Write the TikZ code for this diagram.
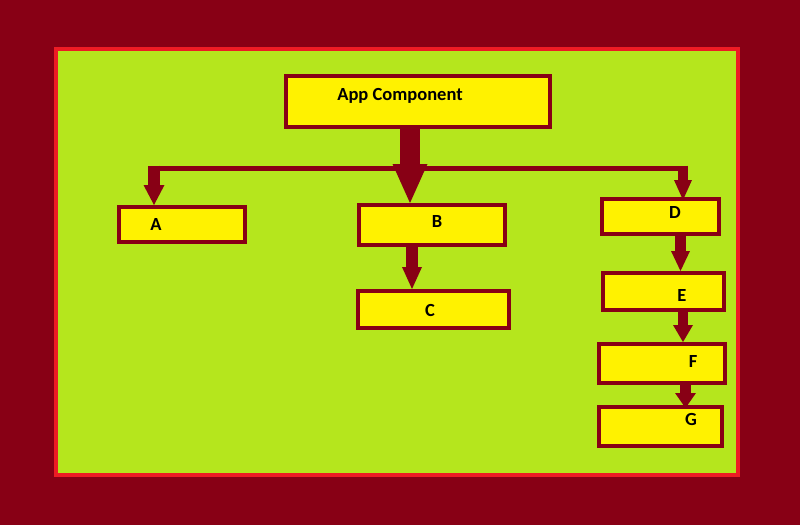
\documentclass[tikz,border=0pt]{standalone}
\usepackage{fontspec}
\setmainfont{Carlito}
\usetikzlibrary{arrows.meta, calc}
\definecolor{darkmaroon}{HTML}{880015}
\definecolor{brightred}{HTML}{ED1C24}
\definecolor{limegreen}{HTML}{B5E61D}
\definecolor{lemonyellow}{HTML}{FFF200}
\tikzset{
    my-frame/.style={
        draw=brightred, fill=limegreen, line width=4pt, inner sep=0pt, shape=rectangle
    },
    my-box/.style={
        draw=darkmaroon, fill=lemonyellow, line width=4pt, inner sep=0pt, shape=rectangle
    },
    my-label/.style={
        font=\fontsize{18.5}{20}\selectfont\bfseries, inner sep=0pt, anchor=base
    },
    my-wire/.style={
        draw=darkmaroon, line width=5pt, line cap=rect
    },
    my-arrow/.style n args={3}{
        draw=darkmaroon, line width=#1, -{Triangle[length=#2, width=#3, line width=0pt]}
    },
}

\begin{document}
\begin{tikzpicture}[x=1pt, y=-1pt]

        % BACKGROUND AND FRAME -------------------------------------------------------------------------
        \useasboundingbox (0, 0) rectangle (800, 525);
        \fill[darkmaroon] (0, 0) rectangle (800, 525);
        \node[my-frame, minimum width=682pt, minimum height=426pt] (FRAME) at (397, 262) {};

        % BOXES ----------------------------------------------------------------------------------------
        \node[my-box, minimum width=264pt, minimum height=51pt] (APP) at (418, 101.5) {};
        \node[my-box, minimum width=126pt, minimum height=35pt] (A)   at (182, 224.5) {};
        \node[my-box, minimum width=146pt, minimum height=40pt] (B)   at (432, 225)   {};
        \node[my-box, minimum width=151pt, minimum height=37pt] (C)   at (433.5, 309.5) {};
        \node[my-box, minimum width=117pt, minimum height=35pt] (D)   at (660.5, 216.5) {};
        \node[my-box, minimum width=121pt, minimum height=37pt] (E)   at (663.5, 291.5) {};
        \node[my-box, minimum width=126pt, minimum height=39pt] (F)   at (662, 363.5) {};
        \node[my-box, minimum width=123pt, minimum height=39pt] (G)   at (660.5, 426.5) {};

        % LABELS
        \node[my-label] (APPTXT) at (400, 100) {App Component};
        \node[my-label] (ATXT)   at (156, 230) {A};
        \node[my-label] (BTXT)   at (437, 227) {B};
        \node[my-label] (CTXT)   at (430, 316) {C};
        \node[my-label] (DTXT)   at (675, 218) {D};
        \node[my-label] (ETXT)   at (682, 301) {E};
        \node[my-label] (FTXT)   at (693, 367) {F};
        \node[my-label] (GTXT)   at (691, 425) {G};

        % CONNECTOR POINTS
        \coordinate (WIREL) at (154, 168);
        \coordinate (WIRER) at (683, 168);
        \coordinate (APPOUT) at ($(APP.south) + (-8, 0)$);
        \coordinate (BIN)    at (APPOUT |- B.north);
        \coordinate (AIN)    at (WIREL |- A.north);
        \coordinate (DIN)    at ($(WIRER |- D.north) + (0, 3)$);
        \coordinate (BOUT)   at ($(B.south west) + (55, 0)$);
        \coordinate (CIN)    at (BOUT |- C.north);
        \coordinate (DOUT)   at ($(D.south west) + (80.5, 0)$);
        \coordinate (EIN)    at (DOUT |- E.north);
        \coordinate (EOUT)   at ($(E.south west) + (82, 0)$);
        \coordinate (FIN)    at (EOUT |- F.north);
        \coordinate (FOUT)   at ($(F.south west) + (88.5, 0)$);
        \coordinate (GIN)    at ($(FOUT |- G.north) + (0, 3)$);

        % WIRES AND ARROWS -----------------------------------------------------------------------------
        \draw[my-wire] (WIREL) -- (WIRER);
        \draw[my-arrow={20pt}{39pt}{35pt}] (APPOUT) -- (BIN);
        \draw[my-arrow={12pt}{20pt}{21pt}] ($(WIREL) + (0, -2.5)$) -- (AIN);
        \draw[my-arrow={10pt}{20pt}{18pt}] ($(WIRER) + (0, -2.5)$) -- (DIN);
        \draw[my-arrow={12pt}{22pt}{20pt}] (BOUT) -- (CIN);
        \draw[my-arrow={11pt}{20pt}{19pt}] (DOUT) -- (EIN);
        \draw[my-arrow={10pt}{17pt}{20pt}] (EOUT) -- (FIN);
        \draw[my-arrow={11pt}{15pt}{21pt}] (FOUT) -- (GIN);

\end{tikzpicture}
\end{document}
